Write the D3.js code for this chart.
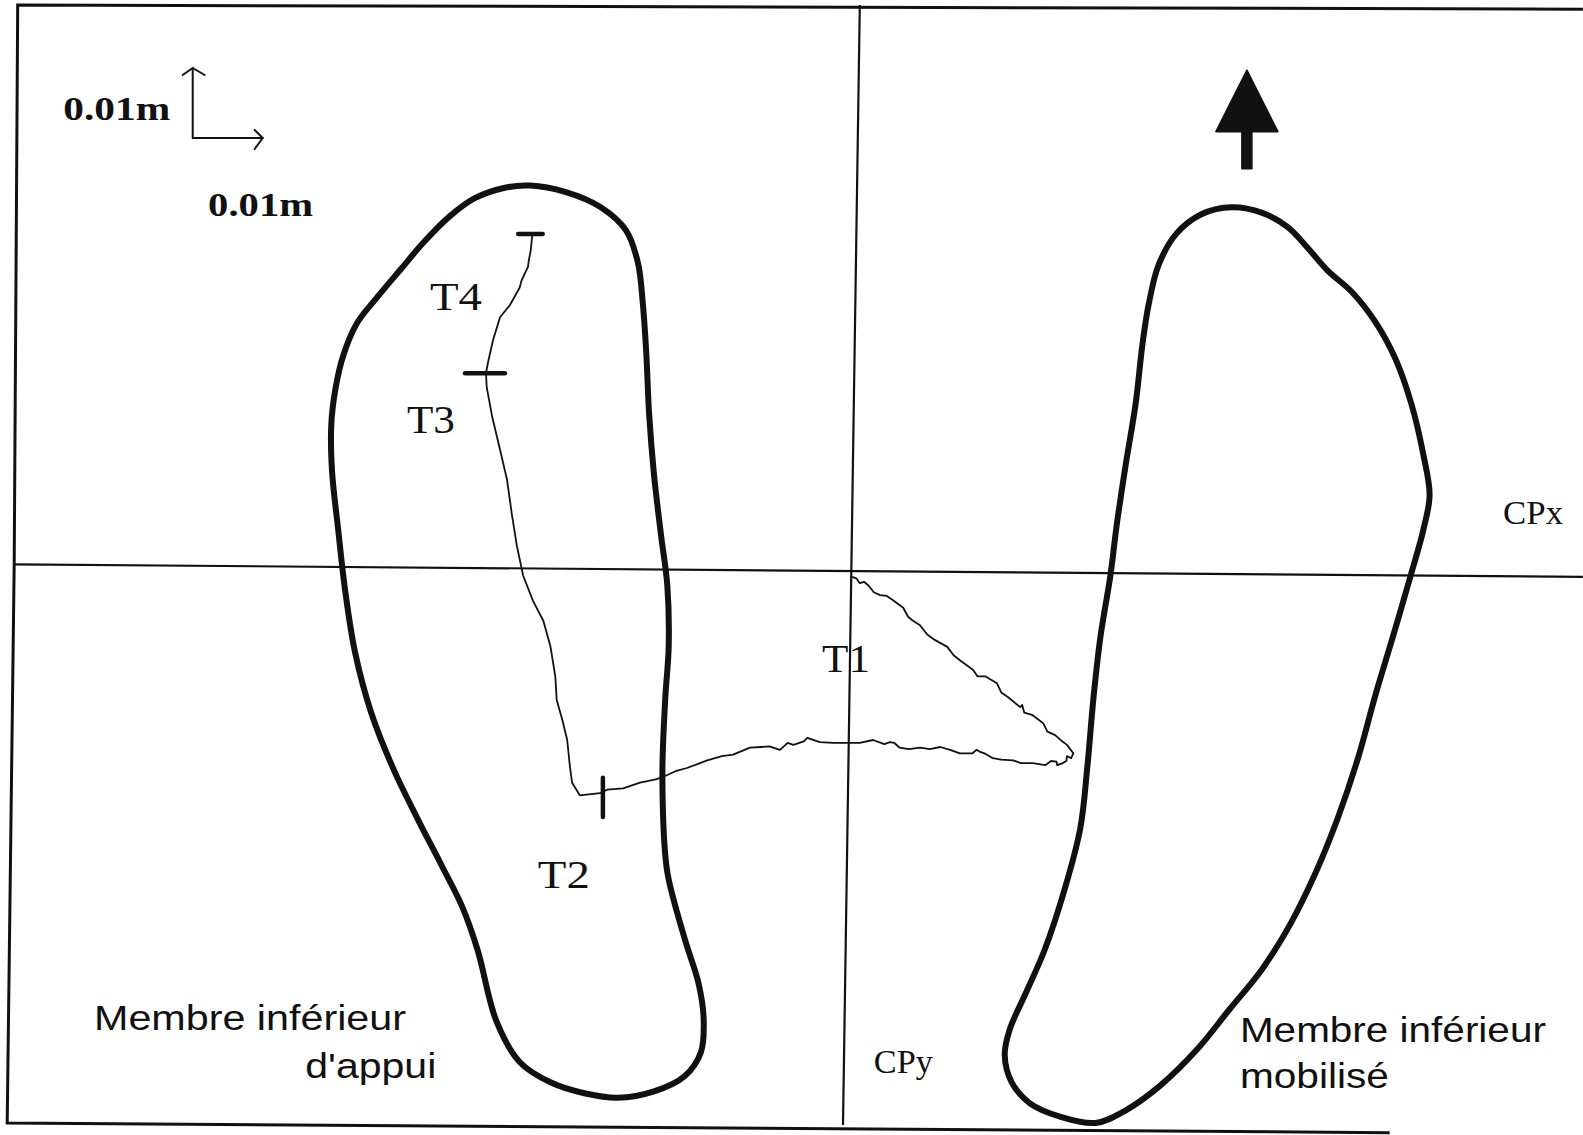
<!DOCTYPE html>
<html>
<head>
<meta charset="utf-8">
<script src="https://cdn.jsdelivr.net/npm/d3@7"></script>
<style>
  html, body { margin: 0; padding: 0; background: #fff; }
  svg { display: block; }
</style>
</head>
<body>
<svg id="chart" width="1583" height="1135"></svg>
<script>
// Centre-of-pressure coordinates, in millimetres (origin = CPx/CPy crossing)

// Outline of the supporting foot (membre inférieur d'appui)
const supportFoot = [
  [-49.3,54.9],[-45.7,55.2],[-40.7,54.3],[-35.6,52.1],[-32.0,48.8],[-30.3,44.2],
  [-29.6,38.4],[-29.1,31.2],[-28.7,22.6],[-28.0,13.9],[-27.0,5.3],[-26.1,-1.9],
  [-25.9,-10.6],[-26.4,-18.2],[-26.8,-29.3],[-26.2,-42.2],[-25.2,-46.8],[-23.4,-53.1],
  [-21.6,-58.9],[-20.9,-64.0],[-21.3,-68.6],[-23.6,-72.0],[-28.0,-74.2],[-33.2,-75.1],
  [-37.8,-74.5],[-42.8,-72.9],[-47.2,-70.0],[-50.5,-64.2],[-53.2,-54.0],[-55.4,-47.8],
  [-58.3,-42.0],[-61.7,-35.4],[-65.2,-28.2],[-68.4,-20.1],[-70.7,-11.5],[-72.1,-2.8],
  [-73.1,5.9],[-74.0,14.5],[-74.1,21.1],[-73.5,26.2],[-72.4,30.9],[-70.4,35.6],
  [-67.5,39.3],[-64.3,43.1],[-60.9,47.1],[-57.2,50.8],[-53.6,53.4]
];

// Outline of the moving foot (membre inférieur mobilisé)
const movingFoot = [
  [54.5,52.1],[58.9,51.3],[62.5,49.3],[65.3,46.4],[68.2,43.1],[71.8,39.9],
  [75.0,35.8],[77.9,30.5],[80.2,24.0],[81.9,16.8],[82.8,11.0],[81.9,6.0],
  [80.1,-0.5],[77.6,-9.1],[75.0,-17.8],[72.6,-26.5],[69.7,-35.1],[66.5,-43.0],
  [62.9,-50.3],[58.9,-56.7],[54.2,-62.5],[49.5,-68.3],[44.4,-73.3],[39.4,-76.9],
  [35.1,-78.7],[30.0,-77.8],[25.7,-75.9],[23.1,-72.9],[22.1,-69.0],[22.8,-65.4],
  [25.0,-60.4],[27.8,-54.0],[30.7,-45.2],[32.9,-36.6],[33.9,-27.9],[34.8,-17.8],
  [35.8,-9.1],[37.2,-0.5],[38.1,6.7],[39.4,15.4],[40.8,24.0],[41.8,32.7],
  [42.7,38.4],[44.1,43.9],[46.6,48.3],[50.2,51.1]
];

// CoP trajectory, phases T1 -> T4
const copTrajectory = [
  [0.3,-0.7],[0.9,-0.9],[1.4,-1.6],[2.0,-1.4],[2.6,-1.9],[3.4,-2.9],[4.3,-3.3],
  [5.2,-3.4],[6.1,-4.0],[7.6,-5.1],[8.3,-6.4],[8.9,-6.9],[10.0,-7.6],[11.0,-8.9],
  [12.1,-9.7],[13.9,-10.7],[14.8,-11.9],[15.7,-12.6],[17.6,-14.0],[18.2,-14.9],
  [19.3,-14.9],[21.0,-15.9],[21.6,-17.2],[22.6,-17.9],[24.3,-19.3],[24.6,-19.0],
  [24.9,-20.1],[26.0,-20.4],[27.6,-21.6],[28.2,-22.8],[29.3,-23.3],[30.2,-24.1],
  [31.0,-24.7],[31.9,-25.9],[31.6,-26.6],[31.0,-26.3],[30.9,-27.0],[30.4,-27.3],
  [29.6,-27.6],[29.5,-27.1],[28.7,-27.0],[27.9,-27.6],[26.1,-27.3],[24.4,-27.3],
  [23.3,-26.9],[21.6,-26.8],[20.4,-26.6],[19.2,-25.9],[18.6,-25.7],[18.1,-25.4],
  [17.5,-25.9],[15.7,-25.9],[14.3,-25.4],[12.9,-25.0],[11.4,-25.3],[10.0,-25.1],
  [8.4,-25.3],[7.1,-25.1],[6.3,-24.4],[5.7,-24.3],[4.9,-24.6],[3.3,-24.0],
  [1.4,-24.4],[-0.4,-24.4],[-2.4,-24.4],[-4.3,-24.3],[-6.1,-23.7],[-6.6,-24.2],
  [-8.1,-24.7],[-8.9,-24.4],[-10.0,-25.4],[-11.5,-24.9],[-12.7,-25.0],[-14.3,-25.1],
  [-15.5,-25.6],[-16.7,-26.1],[-18.3,-26.3],[-20.4,-26.9],[-21.7,-27.4],[-23.3,-28.0],
  [-24.8,-28.4],[-26.1,-29.0],[-27.6,-29.6],[-30.0,-30.1],[-32.4,-30.9],[-34.7,-31.1],
  [-35.7,-31.6],[-38.6,-31.9],[-39.7,-30.1],[-40.0,-27.9],[-40.4,-24.0],[-41.1,-21.1],
  [-41.9,-18.3],[-42.1,-14.9],[-42.8,-10.6],[-43.8,-7.0],[-45.3,-4.1],[-46.7,-0.5],
  [-47.6,3.8],[-48.3,8.2],[-49.0,13.2],[-50.0,17.5],[-51.1,22.1],[-51.9,26.4],
  [-52.0,28.4],[-51.7,30.0],[-51.0,33.1],[-50.0,36.4],[-48.6,38.1],[-47.6,39.9],
  [-47.2,40.6],[-46.9,41.7],[-46.0,43.6],[-45.9,44.4],[-45.6,46.0],[-45.4,48.1]
];

// Phase boundary marks on the trajectory: [x0, y0, x1, y1]
const phaseMarks = [
  [-35.3, -29.4, -35.3, -35.0],   // start of T2
  [-55.0,  28.4, -49.3,  28.4],   // start of T3
  [-47.4,  48.3, -43.9,  48.3]    // end of T4
];
const phaseLabels = ["T1", "T2", "T3", "T4"];

// Axis lines CPx / CPy and plate frame, as traced on the force plate print
const axisCPx = [[-119.4, 1.1], [104.7, -0.7]];
const axisCPy = [[1.4, 81.0], [-1.0, -79.0]];
const plateFrame = [[104.7, 80.4], [-118.9, 81.0], [-119.4, 1.3], [-120.4, -78.7], [77.1, -80.1]];

// Scale bar length (mm) and texts
const scaleBarMM = 10;
const scaleBarText = "0.01m";
const axisNames = ["CPx", "CPy"];
const footNames = [["Membre inférieur", "d'appui"], ["Membre inférieur", "mobilisé"]];

// ---------------------------------------------------------------------------
const svg = d3.select("#chart");
const x = d3.scaleLinear().domain([-120, 100]).range([10, 1550]);
const y = d3.scaleLinear().domain([-80, 80]).range([1132, 12]);
const ink = "#111";

svg.append("rect").attr("width", 1583).attr("height", 1135).attr("fill", "#fff");

const straight = d3.line().x(d => x(d[0])).y(d => y(d[1]));

// Frame and axes
svg.append("path").attr("d", straight(plateFrame))
  .attr("fill", "none").attr("stroke", ink).attr("stroke-width", 3);
svg.append("path").attr("d", straight(axisCPx))
  .attr("fill", "none").attr("stroke", ink).attr("stroke-width", 2.2);
svg.append("path").attr("d", straight(axisCPy))
  .attr("fill", "none").attr("stroke", ink).attr("stroke-width", 2.2);

// Foot outlines
const closedOutline = d3.line().x(d => x(d[0])).y(d => y(d[1]))
  .curve(d3.curveCatmullRomClosed.alpha(0.5));
[supportFoot, movingFoot].forEach(f => {
  svg.append("path").attr("d", closedOutline(f))
    .attr("fill", "none").attr("stroke", ink)
    .attr("stroke-width", 6).attr("stroke-linejoin", "round");
});

// CoP trajectory
svg.append("path").attr("d", straight(copTrajectory))
  .attr("fill", "none").attr("stroke", ink)
  .attr("stroke-width", 1.8).attr("stroke-linejoin", "round");

// Phase marks
svg.selectAll("line.mark").data(phaseMarks).join("line")
  .attr("class", "mark")
  .attr("x1", d => x(d[0])).attr("y1", d => y(d[1]))
  .attr("x2", d => x(d[2])).attr("y2", d => y(d[3]))
  .attr("stroke", ink).attr("stroke-width", 4.5).attr("stroke-linecap", "round");

// Text helper: fixed ink width so glyphs match the printed proportions
function label(str, px, py, opts) {
  const t = svg.append("text")
    .attr("x", px).attr("y", py)
    .attr("font-family", opts.family)
    .attr("font-size", opts.size)
    .attr("font-weight", opts.weight || "normal")
    .attr("fill", ink)
    .attr("text-anchor", opts.anchor || "start")
    .text(str);
  if (opts.width) t.attr("textLength", opts.width).attr("lengthAdjust", "spacingAndGlyphs");
  return t;
}
const serif = "'Liberation Serif', 'Times New Roman', serif";
const sans = "'Liberation Sans', Arial, sans-serif";

// Phase labels placed beside their segments
const phaseAnchors = [[-4.0, -14.3, 48], [-44.6, -45.1, 52], [-63.3, 19.9, 48], [-60.0, 37.4, 52]];
phaseLabels.forEach((p, i) => {
  const a = phaseAnchors[i];
  label(p, x(a[0]), y(a[1]), { family: serif, size: 40, width: a[2] });
});

// Axis names
label(axisNames[0], x(93.3), y(6.9), { family: serif, size: 33, width: 60 });
label(axisNames[1], x(3.4), y(-71.6), { family: serif, size: 33, width: 59 });

// Scale bar with open arrowheads
const sx0 = -93.9, sy0 = 62.0;
const bar = svg.append("g").attr("fill", "none").attr("stroke", ink)
  .attr("stroke-width", 2).attr("stroke-linejoin", "round").attr("stroke-linecap", "round");
bar.append("path").attr("d", straight([[sx0, sy0 + scaleBarMM], [sx0, sy0], [sx0 + scaleBarMM, sy0]]));
const ax = x(sx0), ayTop = y(sy0 + scaleBarMM), axRight = x(sx0 + scaleBarMM), ayBase = y(sy0);
bar.append("path").attr("d", `M${ax - 10},${ayTop + 7} L${ax},${ayTop} L${ax + 12},${ayTop + 7}`);
bar.append("path").attr("d", `M${axRight - 8},${ayBase - 8} L${axRight},${ayBase} L${axRight - 8},${ayBase + 11}`);
label(scaleBarText, x(-112.4), y(64.6), { family: serif, size: 34, weight: "bold", width: 107 });
label(scaleBarText, x(-91.7), y(50.9), { family: serif, size: 34, weight: "bold", width: 105 });

// Walking direction arrow
const apex = [x(56.7), y(71.7)], baseY = y(62.9), half = 31, shaftBottom = y(57.6);
svg.append("path")
  .attr("d", `M${apex[0]},${apex[1]} L${apex[0] + half},${baseY} L${apex[0] + 5},${baseY}
              L${apex[0] + 5},${shaftBottom} L${apex[0] - 5},${shaftBottom} L${apex[0] - 5},${baseY}
              L${apex[0] - half},${baseY} Z`)
  .attr("fill", ink).attr("stroke", ink).attr("stroke-width", 1.5).attr("stroke-linejoin", "round");

// Foot names
label(footNames[0][0], x(-108.0), y(-65.4), { family: sans, size: 35, width: 312 });
label(footNames[0][1], x(-59.1), y(-72.3), { family: sans, size: 35, width: 131, anchor: "end" });
label(footNames[1][0], x(55.7), y(-67.1), { family: sans, size: 35, width: 306 });
label(footNames[1][1], x(55.7), y(-73.7), { family: sans, size: 35, width: 149 });
</script>
</body>
</html>
